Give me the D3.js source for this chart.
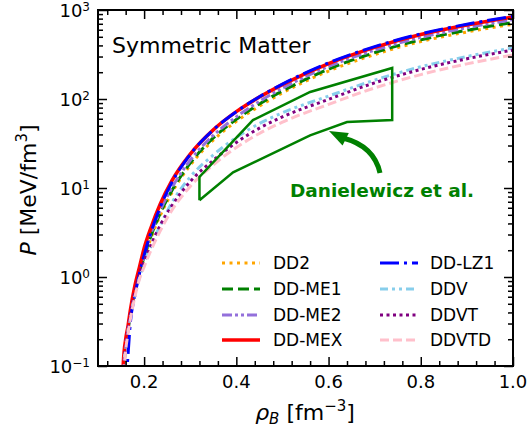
<!DOCTYPE html>
<html>
<head>
<meta charset="utf-8">
<script src="https://cdn.jsdelivr.net/npm/d3@7"></script>
<style>
  body { margin: 0; background: #fff; }
  text { font-family: "DejaVu Sans", sans-serif; }
</style>
</head>
<body>
<div id="chart"></div>
<script>
// density grid (fm^-3) shared by all models
const rho = [0.152, 0.155, 0.16, 0.165, 0.17, 0.18, 0.19, 0.2, 0.215, 0.235, 0.26, 0.3, 0.35, 0.4, 0.45, 0.5, 0.6, 0.7, 0.8, 0.9, 1.0];

// pressure (MeV/fm^3)
const pDD2   = [0.03, 0.08, 0.17, 0.25, 0.36, 0.68, 1.05, 1.6, 2.75, 4.9, 8.8, 18, 34.5, 56, 83, 117, 206, 316, 442, 566, 692];
const pDDME1 = [0.02, 0.07, 0.16, 0.25, 0.37, 0.7, 1.1, 1.7, 2.9, 5.2, 9.3, 19, 36.5, 59, 88, 123, 216, 332, 462, 592, 725];
const pDDME2 = [0.02, 0.07, 0.17, 0.26, 0.38, 0.72, 1.15, 1.8, 3.1, 5.6, 10, 20.5, 39, 63, 94, 132, 232, 354, 492, 632, 780];
const pDDMEX = [0.04, 0.11, 0.2, 0.28, 0.42, 0.8, 1.3, 2.1, 3.6, 6.6, 12, 24, 45, 72, 105, 145, 250, 380, 530, 680, 835];
const pDDLZ1 = [0.005, 0.01, 0.05, 0.13, 0.3, 0.62, 1.1, 1.75, 3.2, 6.1, 11.5, 23.8, 45, 72, 106, 147, 255, 388, 540, 692, 850];
const pDDV   = [0.03, 0.08, 0.17, 0.25, 0.36, 0.62, 0.98, 1.4, 2.25, 3.8, 6.8, 13.3, 23.5, 37, 53, 70, 108, 163, 230, 300, 375];
const pDDVT  = [0.03, 0.08, 0.17, 0.26, 0.38, 0.68, 1.1, 1.5, 2.3, 3.8, 6.3, 11.8, 20.5, 32.5, 47, 63, 99, 152, 215, 283, 355];
const pDDVTD = [0.03, 0.07, 0.15, 0.23, 0.33, 0.6, 0.95, 1.3, 2.0, 3.3, 5.6, 10.4, 18.2, 28.5, 41, 55, 87, 133, 188, 248, 312];

const modelNames = ["DD2", "DD-ME1", "DD-ME2", "DD-MEX", "DD-LZ1", "DDV", "DDVT", "DDVTD"];
const modelValues = [pDD2, pDDME1, pDDME2, pDDMEX, pDDLZ1, pDDV, pDDVT, pDDVTD];

// Danielewicz et al. flow constraint (polygon)
const bandRho = [0.32, 0.32, 0.436, 0.56, 0.738, 0.738, 0.64, 0.56, 0.393, 0.32];
const bandP   = [7.3, 13.3, 58, 120, 223, 58, 55, 39, 15, 7.3];

// ticks
const xMajor = [0.2, 0.4, 0.6, 0.8, 1.0];
const xTickLabels = ["0.2", "0.4", "0.6", "0.8", "1.0"];
const yMajor = [0.1, 1, 10, 100, 1000];
const yTickExp = ["−1", "0", "1", "2", "3"];

// styles
const colours = ["orange", "green", "mediumpurple", "red", "blue", "skyblue", "purple", "pink"];
const dashes = ["3,4.5", "11,5", "10,3,3,3,3,3", null, "19,5,3,5", "8,4,3,4,3,4", "3,3.5", "9,4"];
const widths = [3, 3, 3, 3.5, 3, 3, 3, 3];

const width = 529, height = 431;
const plot = { left: 98, right: 513, top: 10, bottom: 366 };

const x = d3.scaleLinear().domain([0.1, 1.0]).range([plot.left, plot.right]);
const y = d3.scaleLog().domain([0.1, 1000]).range([plot.bottom, plot.top]);

const svg = d3.select("#chart").append("svg")
  .attr("width", width).attr("height", height);

svg.append("defs").append("clipPath").attr("id", "clip")
  .append("rect")
  .attr("x", plot.left).attr("y", plot.top)
  .attr("width", plot.right - plot.left).attr("height", plot.bottom - plot.top);

const line = d3.line()
  .x(d => x(d[0]))
  .y(d => y(d[1]))
  .curve(d3.curveMonotoneX);

const curves = svg.append("g").attr("clip-path", "url(#clip)");

modelValues.forEach((vals, i) => {
  curves.append("path")
    .datum(rho.map((r, j) => [r, vals[j]]))
    .attr("fill", "none")
    .attr("stroke", colours[i])
    .attr("stroke-width", widths[i])
    .attr("stroke-dasharray", dashes[i])
    .attr("d", line);
});

// Danielewicz band
curves.append("path")
  .datum(bandRho.map((r, j) => [r, bandP[j]]))
  .attr("fill", "none")
  .attr("stroke", "green")
  .attr("stroke-width", 2.5)
  .attr("stroke-linejoin", "miter")
  .attr("d", d3.line().x(d => x(d[0])).y(d => y(d[1])));

// arrow
const tail = [380, 173], ctrl = [374, 146], headBase = [343, 138], tip = [329, 131];
svg.append("path")
  .attr("d", `M${tail[0]},${tail[1]} Q${ctrl[0]},${ctrl[1]} ${headBase[0]},${headBase[1]}`)
  .attr("fill", "none").attr("stroke", "green").attr("stroke-width", 5);
{
  const dx = tip[0] - headBase[0], dy = tip[1] - headBase[1];
  const len = Math.hypot(dx, dy), nx = -dy / len, ny = dx / len, hw = 7;
  const b0 = [headBase[0] - 3 * dx / len, headBase[1] - 3 * dy / len];
  svg.append("path")
    .attr("d", `M${tip[0]},${tip[1]} L${b0[0] + nx * hw},${b0[1] + ny * hw} L${b0[0] - nx * hw},${b0[1] - ny * hw}Z`)
    .attr("fill", "green");
}

svg.append("text")
  .attr("x", 382).attr("y", 197)
  .attr("text-anchor", "middle")
  .attr("font-weight", "bold")
  .attr("font-size", 18.5)
  .attr("fill", "green")
  .text("Danielewicz et al.");

// title
svg.append("text")
  .attr("x", 112).attr("y", 53)
  .attr("font-size", 22)
  .text("Symmetric Matter");

// axes: ticks pointing inwards on all four sides
const xMinor = d3.range(3, 25).map(k => k * 0.04).filter(v => v <= 1.0001 && !xMajor.some(m => Math.abs(m - v) < 1e-6));
const yMinor = [];
[-1, 0, 1, 2].forEach(e => { for (let k = 2; k <= 9; k++) yMinor.push(k * Math.pow(10, e)); });

function addAxis(axisGen, values, size, transform) {
  const g = svg.append("g")
    .attr("transform", transform)
    .call(axisGen.tickValues(values).tickSizeInner(size).tickSizeOuter(0).tickFormat(""));
  g.select(".domain").remove();
  g.selectAll(".tick line").attr("stroke", "#000").attr("stroke-width", 1.5);
}

const majLen = 9, minLen = 5;
addAxis(d3.axisBottom(x), xMajor, -majLen, `translate(0,${plot.bottom})`);
addAxis(d3.axisBottom(x), xMinor, -minLen, `translate(0,${plot.bottom})`);
addAxis(d3.axisTop(x), xMajor, -majLen, `translate(0,${plot.top})`);
addAxis(d3.axisTop(x), xMinor, -minLen, `translate(0,${plot.top})`);
addAxis(d3.axisLeft(y), yMajor, -majLen, `translate(${plot.left},0)`);
addAxis(d3.axisLeft(y), yMinor, -minLen, `translate(${plot.left},0)`);
addAxis(d3.axisRight(y), yMajor, -majLen, `translate(${plot.right},0)`);
addAxis(d3.axisRight(y), yMinor, -minLen, `translate(${plot.right},0)`);

svg.append("rect")
  .attr("x", plot.left).attr("y", plot.top)
  .attr("width", plot.right - plot.left).attr("height", plot.bottom - plot.top)
  .attr("fill", "none").attr("stroke", "#000").attr("stroke-width", 2);

// tick labels
svg.append("g").selectAll("text")
  .data(xMajor)
  .enter().append("text")
  .attr("x", d => x(d)).attr("y", 388)
  .attr("text-anchor", "middle")
  .attr("font-size", 18)
  .text((d, i) => xTickLabels[i]);

const yLab = svg.append("g").selectAll("text")
  .data(yMajor)
  .enter().append("text")
  .attr("x", 90).attr("y", d => y(d) + 7)
  .attr("text-anchor", "end")
  .attr("font-size", 18);
yLab.append("tspan").text("10");
yLab.append("tspan").attr("dy", -6.5).attr("font-size", 12).text((d, i) => yTickExp[i]);

// axis labels
const xl = svg.append("text")
  .attr("x", 305).attr("y", 420)
  .attr("text-anchor", "middle")
  .attr("font-size", 22);
xl.append("tspan").attr("font-style", "italic").text("ρ");
xl.append("tspan").attr("font-style", "italic").attr("font-size", 15).attr("dy", 4).text("B");
xl.append("tspan").attr("dy", -4).text(" [fm");
xl.append("tspan").attr("font-size", 15).attr("dy", -9).text("−3");
xl.append("tspan").attr("dy", 9).text("]");

const yl = svg.append("text")
  .attr("transform", "translate(36,190) rotate(-90)")
  .attr("text-anchor", "middle")
  .attr("font-size", 22);
yl.append("tspan").attr("font-style", "italic").text("P");
yl.append("tspan").text(" [MeV/fm");
yl.append("tspan").attr("font-size", 15).attr("dy", -9).text("3");
yl.append("tspan").attr("dy", 9).text("]");

// legend: two columns, four rows
const legRowY = [263, 289, 315, 340];
const legCols = [{ x0: 222, x1: 260, tx: 273 }, { x0: 380, x1: 418, tx: 430 }];
modelNames.forEach((name, i) => {
  const col = legCols[Math.floor(i / 4)], yy = legRowY[i % 4];
  svg.append("line")
    .attr("x1", col.x0).attr("x2", col.x1).attr("y1", yy).attr("y2", yy)
    .attr("stroke", colours[i]).attr("stroke-width", widths[i])
    .attr("stroke-dasharray", dashes[i]);
  svg.append("text")
    .attr("x", col.tx).attr("y", yy + 6)
    .attr("font-size", 17)
    .text(name);
});
</script>
</body>
</html>
